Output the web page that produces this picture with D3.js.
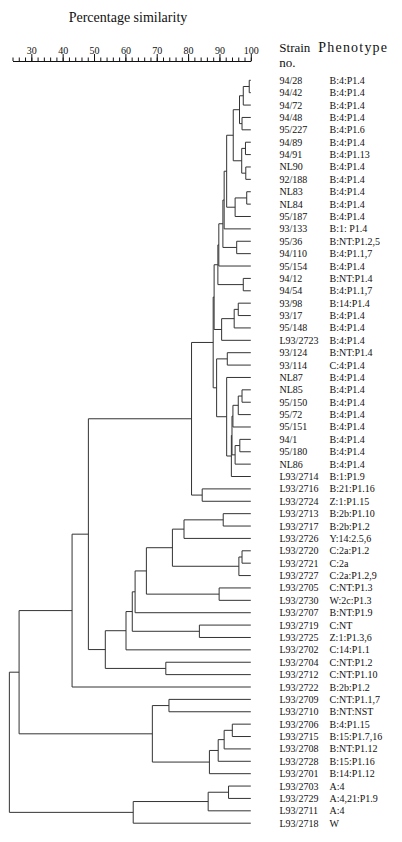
<!DOCTYPE html>
<html><head><meta charset="utf-8">
<script src="https://cdn.jsdelivr.net/npm/d3@7"></script>
<style>
html,body{margin:0;padding:0;background:#fff;}
svg{display:block;}
text{font-family:"Liberation Serif","Times New Roman",serif;fill:#111;}
</style></head><body>
<svg id="chart" width="402" height="842"></svg>
<script>
const strains = ["94/28","94/42","94/72","94/48","95/227","94/89","94/91","NL90","92/188","NL83","NL84","95/187","93/133","95/36","94/110","95/154","94/12","94/54","93/98","93/17","95/148","L93/2723","93/124","93/114","NL87","NL85","95/150","95/72","95/151","94/1","95/180","NL86","L93/2714","L93/2716","L93/2724","L93/2713","L93/2717","L93/2726","L93/2720","L93/2721","L93/2727","L93/2705","L93/2730","L93/2707","L93/2719","L93/2725","L93/2702","L93/2704","L93/2712","L93/2722","L93/2709","L93/2710","L93/2706","L93/2715","L93/2708","L93/2728","L93/2701","L93/2703","L93/2729","L93/2711","L93/2718"];
const phenotypes = ["B:4:P1.4","B:4:P1.4","B:4:P1.4","B:4:P1.4","B:4:P1.6","B:4:P1.4","B:4:P1.13","B:4:P1.4","B:4:P1.4","B:4:P1.4","B:4:P1.4","B:4:P1.4","B:1: P1.4","B:NT:P1.2,5","B:4:P1.1,7","B:4:P1.4","B:NT:P1.4","B:4:P1.1,7","B:14:P1.4","B:4:P1.4","B:4:P1.4","B:4:P1.4","B:NT:P1.4","C:4:P1.4","B:4:P1.4","B:4:P1.4","B:4:P1.4","B:4:P1.4","B:4:P1.4","B:4:P1.4","B:4:P1.4","B:4:P1.4","B:1:P1.9","B:21:P1.16","Z:1:P1.15","B:2b:P1.10","B:2b:P1.2","Y:14:2.5,6","C:2a:P1.2","C:2a","C:2a:P1.2,9","C:NT:P1.3","W:2c:P1.3","B:NT:P1.9","C:NT","Z:1:P1.3,6","C:14:P1.1","C:NT:P1.2","C:NT:P1.10","B:2b:P1.2","C:NT:P1.1,7","B:NT:NST","B:4:P1.15","B:15:P1.7,16","B:NT:P1.12","B:15:P1.16","B:14:P1.12","A:4","A:4,21:P1.9","A:4","W"];
// [node id, child A, child B, % similarity at which they join]
const merges = [
 ["a1","94/28","94/42",99.5],
 ["a2","a1","94/72",97.6],
 ["a3","94/48","95/227",97.2],
 ["a4","a2","a3",96.4],
 ["a5","94/89","94/91",98.3],
 ["a6","NL90","92/188",98.4],
 ["a7","a5","a6",97.1],
 ["a8","a4","a7",94.4],
 ["a9","NL83","NL84",98.7],
 ["a10","a9","95/187",95.0],
 ["a11","a8","a10",92.3],
 ["a12","a11","93/133",91.5],
 ["a13","95/36","94/110",95.5],
 ["a14","a12","a13",91.1],
 ["a15","a14","95/154",89.8],
 ["a16","94/12","94/54",97.6],
 ["a17","a15","a16",89.5],
 ["a18","93/98","93/17",96.0],
 ["a19","a18","95/148",94.7],
 ["a20","a19","L93/2723",90.7],
 ["a21","a17","a20",88.3],
 ["a22","93/124","93/114",92.5],
 ["a23","NL85","95/150",97.2],
 ["a24","a23","95/72",96.0],
 ["a25","a24","95/151",94.3],
 ["a26","94/1","95/180",96.5],
 ["a27","a26","NL86",95.0],
 ["a28","a25","a27",94.0],
 ["a29","a28","L93/2714",93.8],
 ["a30","NL87","a29",92.3],
 ["a31","a22","a30",89.1],
 ["a32","a21","a31",88.0],
 ["a33","L93/2716","L93/2724",84.5],
 ["a34","a32","a33",81.1],
 ["a35","L93/2713","L93/2717",91.2],
 ["a36","a35","L93/2726",78.7],
 ["a37","L93/2720","L93/2721",97.2],
 ["a38","a37","L93/2727",96.2],
 ["a39","a36","a38",75.0],
 ["a40","L93/2705","L93/2730",89.9],
 ["a41","a39","a40",66.7],
 ["a42","a41","L93/2707",63.1],
 ["a43","L93/2719","L93/2725",83.6],
 ["a44","a42","a43",62.2],
 ["a45","a44","L93/2702",60.2],
 ["a46","L93/2704","L93/2712",72.9],
 ["a47","a45","a46",53.6],
 ["a48","a34","a47",48.2],
 ["a49","a48","L93/2722",43.0],
 ["a50","L93/2709","L93/2710",73.9],
 ["a51","L93/2706","L93/2715",94.1],
 ["a52","a51","L93/2708",91.5],
 ["a53","a52","L93/2728",89.6],
 ["a54","a53","L93/2701",86.8],
 ["a55","a50","a54",68.6],
 ["a56","a49","a55",26.1],
 ["a57","L93/2703","L93/2729",92.9],
 ["a58","a57","L93/2711",86.4],
 ["a59","a58","L93/2718",62.5],
 ["root","a56","a59",23.0]
];
const axisTicks = d3.range(24, 101, 2);
const axisLabels = [30,40,50,60,70,80,90,100];

const svg = d3.select("#chart");
const x = d3.scaleLinear().domain([24,100]).range([12.5,250.8]);
const y = d3.scalePoint().domain(strains).range([80.3,823.2]);

// build hierarchy
const lookup = new Map();
strains.forEach((s,i)=>lookup.set(s,{name:s,sim:100,pheno:phenotypes[i]}));
merges.forEach(([id,a,b,sim])=>lookup.set(id,{name:id,sim:sim,children:[lookup.get(a),lookup.get(b)]}));
const root = d3.hierarchy(lookup.get("root"));
root.eachAfter(d=>{
  d.px = x(d.data.sim);
  d.py = d.children ? (d.children[0].py + d.children[1].py)/2 : y(d.data.name);
});

const g = svg.append("g").attr("fill","none").attr("stroke","#333").attr("stroke-width",1);
const segs = [];
root.each(d=>{
  if(!d.children) return;
  const ys = d.children.map(c=>c.py);
  segs.push(`M${d.px},${d3.min(ys)}V${d3.max(ys)}`);
  d.children.forEach(c=>segs.push(`M${d.px},${c.py}H${c.px}`));
});
g.selectAll("path").data(segs).join("path").attr("d",s=>s);

// axis
const ax = svg.append("g").attr("transform","translate(0,61)");
ax.call(d3.axisTop(x).tickValues(axisTicks).tickSize(3.5).tickFormat("").tickSizeOuter(0));
const ax2 = svg.append("g").attr("transform","translate(0,61)");
ax2.call(d3.axisTop(x).tickValues(axisLabels).tickSize(7).tickPadding(0.5).tickSizeOuter(0).tickFormat(d3.format("d")));
ax2.select(".domain").remove();
svg.selectAll(".tick line").attr("stroke","#111");
svg.selectAll(".domain").attr("stroke","#111");
ax2.selectAll("text").attr("font-size",10).attr("font-family",'"Liberation Serif","Times New Roman",serif').attr("fill","#111");

// titles
svg.append("text").attr("x",128).attr("y",22).attr("text-anchor","middle").attr("font-size",14).text("Percentage similarity");
svg.append("text").attr("x",279.3).attr("y",52).attr("font-size",13).text("Strain");
svg.append("text").attr("x",279.3).attr("y",66.5).attr("font-size",13).text("no.");
svg.append("text").attr("x",318.3).attr("y",52).attr("font-size",14).attr("letter-spacing",1.2).text("Phenotype");

// leaf labels
const lab = svg.append("g").attr("font-size",10);
lab.selectAll("text.s").data(strains).join("text").attr("class","s")
  .attr("x",279.5).attr("y",d=>y(d)).attr("dy","0.35em").text(d=>d);
lab.selectAll("text.p").data(phenotypes).join("text").attr("class","p")
  .attr("x",329.5).attr("y",(d,i)=>y(strains[i])).attr("dy","0.35em").text(d=>d);
</script>
</body></html>
